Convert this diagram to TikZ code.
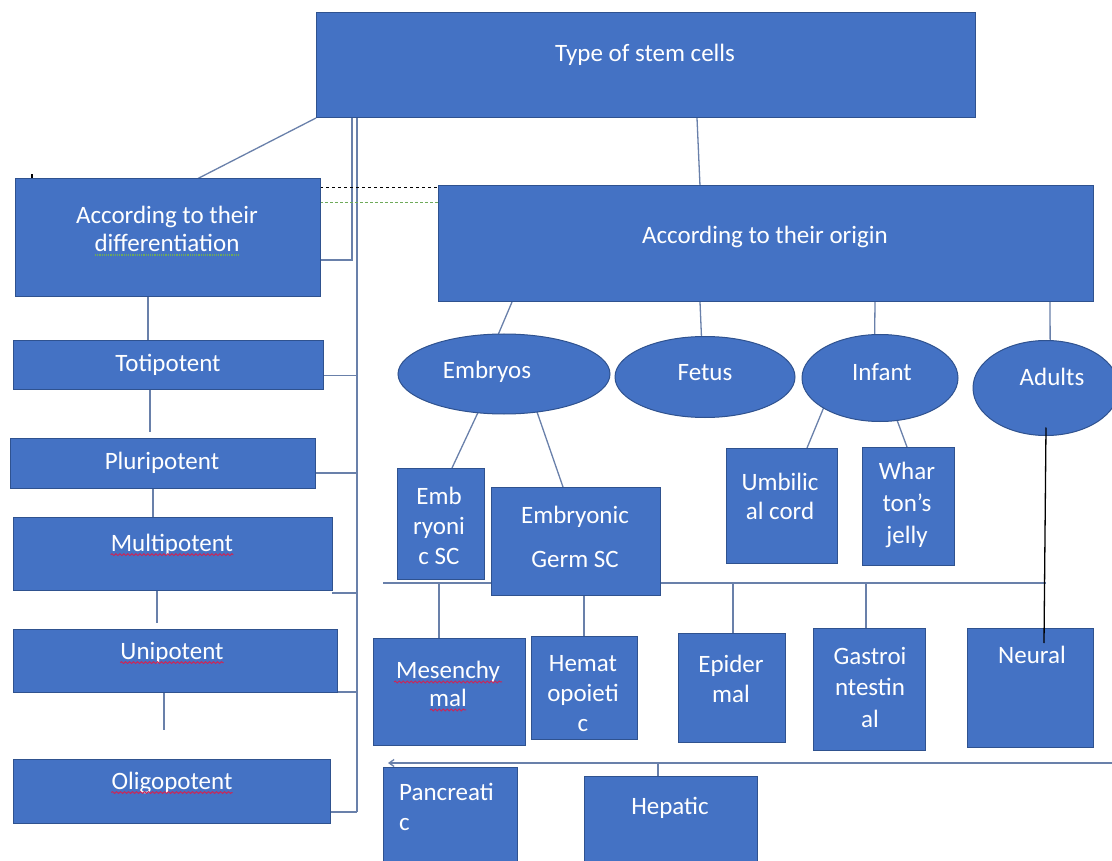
\documentclass[tikz,border=0pt]{standalone}
\usepackage{fontspec}
\setmainfont{Carlito}
\usetikzlibrary{shapes.geometric,decorations.pathmorphing,arrows.meta}
\definecolor{boxblue}{RGB}{68,114,196}
\definecolor{boxedge}{RGB}{47,82,143}
\definecolor{linec}{RGB}{105,128,170}
\definecolor{spellred}{RGB}{200,40,90}
\definecolor{spellgreen}{RGB}{110,170,90}
\pgfdeclarelayer{back}
\pgfdeclarelayer{bg}
\pgfsetlayers{back,bg,main}
\newcommand\mybox[5]{\node[box,minimum width={#4-#2},minimum height={#5-#3}] (#1) at (#2,#3) {};}
\begin{document}
\begin{tikzpicture}[x=1pt,y=-1pt,
  box/.style={draw=boxedge,fill=boxblue,line width=1pt,inner sep=0pt,outer sep=0pt,anchor=north west},
  ell/.style={ellipse,draw=boxedge,fill=boxblue,line width=1pt,inner sep=0pt,outer sep=0pt},
  txt/.style={text=white,font=\fontsize{25}{30}\selectfont,align=center,inner sep=0pt},
  conn/.style={draw=linec,line width=1.3pt},
  bracket/.style={draw=linec,line width=2.6pt},
  wavy/.style={decorate,decoration={snake,amplitude=0.9pt,segment length=4pt},line width=1pt}]
\useasboundingbox (0,0) rectangle (1112,861);
\clip (0,0) rectangle (1112,861);
\begin{pgfonlayer}{back}
\fill[white] (0,0) rectangle (1112,861);
\end{pgfonlayer}

% boxes
\mybox{top}{316}{13}{975}{118}
\mybox{diff}{15}{179}{320}{297}
\mybox{toti}{13}{340}{323}{389}
\mybox{pluri}{10}{438}{315}{488}
\mybox{multi}{13}{517}{332}{590}
\mybox{uni}{13}{629}{337}{692}
\mybox{oligo}{13}{759}{330}{823}
\mybox{origin}{438}{186}{1093}{302}
\node[ell,minimum width=212,minimum height=80] (emb) at (504,374) {};
\node[ell,minimum width=180,minimum height=81] (fetus) at (705,377) {};
\node[ell,minimum width=156,minimum height=87] (infant) at (880,378) {};
\node[ell,minimum width=146,minimum height=95] (adults) at (1046,388) {};
\mybox{embsc}{397}{468}{484}{579}
\mybox{germ}{491}{487}{660}{595}
\mybox{umb}{726}{448}{837}{563}
\mybox{whar}{862}{447}{954}{565}
\mybox{mes}{373}{638}{525}{745}
\mybox{hem}{531}{636}{637}{739}
\mybox{epi}{678}{633}{785}{742}
\mybox{gas}{813}{628}{925}{750}
\mybox{neur}{967}{628}{1093}{747}
\mybox{panc}{383}{767}{517}{870}
\mybox{hep}{584}{776}{757}{870}

% texts
\node[txt] (top-t) at (645,55) {Type of stem cells};
\node[txt,font=\fontsize{25}{28}\selectfont] (diff-t) at (167,229) {According to their\\differentiation};
\node[txt] (origin-t) at (765,237) {According to their origin};
\node[txt] (toti-t) at (168,365) {Totipotent};
\node[txt] (pluri-t) at (162,463) {Pluripotent};
\node[txt] (multi-t) at (172,545) {Multipotent};
\node[txt] (uni-t) at (172,653) {Unipotent};
\node[txt] (oligo-t) at (172,783) {Oligopotent};
\node[txt] (emb-t) at (487,372) {Embryos};
\node[txt] (fetus-t) at (705,373) {Fetus};
\node[txt] (infant-t) at (882,372) {Infant};
\node[txt] (adults-t) at (1052,377) {Adults};
\node[txt] (embsc-t) at (439,526) {Emb\\ryoni\\c SC};
\node[txt,font=\fontsize{25}{44}\selectfont] (germ-t) at (575,537) {Embryonic\\Germ SC};
\node[txt,font=\fontsize{25}{29}\selectfont] (umb-t) at (780,496) {Umbilic\\al cord};
\node[txt,font=\fontsize{25}{32}\selectfont] (whar-t) at (907,505) {Whar\\ton’s\\jelly};
\node[txt,font=\fontsize{25}{28}\selectfont] (mes-t) at (448,684) {Mesenchy\\mal};
\node[txt] (hem-t) at (583,694) {Hemat\\opoieti\\c};
\node[txt] (epi-t) at (731,679) {Epider\\mal};
\node[txt,font=\fontsize{25}{31.5}\selectfont] (gas-t) at (870,687) {Gastroi\\ntestin\\al};
\node[txt] (neur-t) at (1032,655) {Neural};
\node[txt,align=left,anchor=west] (panc-t) at (399,807) {Pancreati\\c};
\node[txt] (hep-t) at (670,808) {Hepatic};

% spell-check underlines
\draw[spellgreen,densely dotted,line width=1.2pt] ([xshift=-72pt,yshift=-3pt]diff-t.south) -- ++(144,0);
\draw[wavy,spellred] ([yshift=-3pt]multi-t.base west) -- ([yshift=-3pt]multi-t.base east);
\draw[wavy,spellred] ([yshift=-3pt]uni-t.base west) -- ([yshift=-3pt]uni-t.base east);
\draw[wavy,spellred] ([yshift=-3pt]oligo-t.base west) -- ([yshift=-3pt]oligo-t.base east);
\draw[wavy,spellred] ([xshift=-54pt,yshift=25pt]mes-t.south) -- ++(108,0);
\draw[wavy,spellred] ([xshift=-18pt,yshift=-3pt]mes-t.south) -- ++(36,0);

\begin{pgfonlayer}{bg}
% top level
\draw[conn] (top.south west) -- ([xshift=182pt]diff.north west);
\draw[conn] ([xshift=381pt]top.south west) -- ([xshift=262pt]origin.north west);
\draw[bracket] ([xshift=41pt]top.south west) -- ++(0,694);
\draw[conn] ([xshift=36pt]top.south west) |- ([yshift=37pt]diff.south east);
% stubs to bracket
\draw[conn] ([yshift=-11pt]toti.east) -- ++(34,0);
\draw[conn] ([yshift=-10pt]pluri.east) -- ++(42,0);
\draw[conn] ([yshift=-3pt]multi.south east) -- ++(25,0);
\draw[conn] (uni.south east) -- ++(20,0);
\draw[conn] ([yshift=11pt]oligo.south east) -- ++(27,0);
% left column
\draw[conn] ([xshift=133pt]diff.south west) -- ([xshift=135pt]toti.north west);
\draw[conn] ([xshift=137pt]toti.south west) -- ++(0,43);
\draw[conn] ([xshift=143pt]pluri.south west) -- ([xshift=140pt]multi.north west);
\draw[conn] ([xshift=144pt]multi.south west) -- ++(0,33);
\draw[conn] ([xshift=151pt,yshift=-1pt]uni.south west) -- ++(0,37);
% dashed lines between the two category boxes
\draw[black,dashed,line width=1pt] ([yshift=-9pt]diff.north east) -- ([yshift=-2pt]origin.north west);
\draw[spellgreen,densely dashed,line width=1pt] ([yshift=-24pt]diff.north east) -- ([yshift=-17pt]origin.north west);
\draw[black,line width=1.2pt] ([xshift=17pt]diff.north west) -- ++(0,-5);
% origin to ellipses
\draw[conn] ([xshift=74pt]origin.south west) -- (emb.98);
\draw[conn] ([xshift=262pt]origin.south west) -- (fetus.95);
\draw[conn] ([xshift=437pt]origin.south west) -- (infant.97);
\draw[conn] ([xshift=612pt]origin.south west) -- (adults.85);
% ellipses to boxes
\draw[conn] (emb.236) -- ([xshift=55pt]embsc.north west);
\draw[conn] (emb.311) -- ([xshift=72pt]germ.north west);
\draw[conn] (infant.208) -- ([xshift=81pt]umb.north west);
\draw[conn] (infant.292) -- ([xshift=45pt]whar.north west);
% horizontal line 1
\coordinate (h1l) at (383,583);
\coordinate (h1r) at (1046,583);
\draw[conn] (h1l) -- (h1r);
\draw[conn] ([xshift=66pt]mes.north west) -- ++(0,-55);
\draw[conn] ([xshift=93pt]germ.south west) -- ([xshift=53pt]hem.north west);
\draw[conn] ([xshift=55pt]epi.north west) -- ++(0,-50);
\draw[conn] ([xshift=53pt]gas.north west) -- ++(0,-45);
% horizontal line 2
\coordinate (h2l) at (388,763);
\coordinate (h2r) at (1112,763);
\draw[conn,-{Straight Barb[length=5pt,width=7pt]}] (h2r) -- (h2l);
\draw[conn] ([xshift=74pt]hep.north west) -- ++(0,-13);
\end{pgfonlayer}

% adults to neural (drawn over the box)
\draw[black,line width=1.3pt] ([yshift=8pt]adults.south) -- ([xshift=77pt,yshift=-15pt]neur.north west);
\end{tikzpicture}
\end{document}
